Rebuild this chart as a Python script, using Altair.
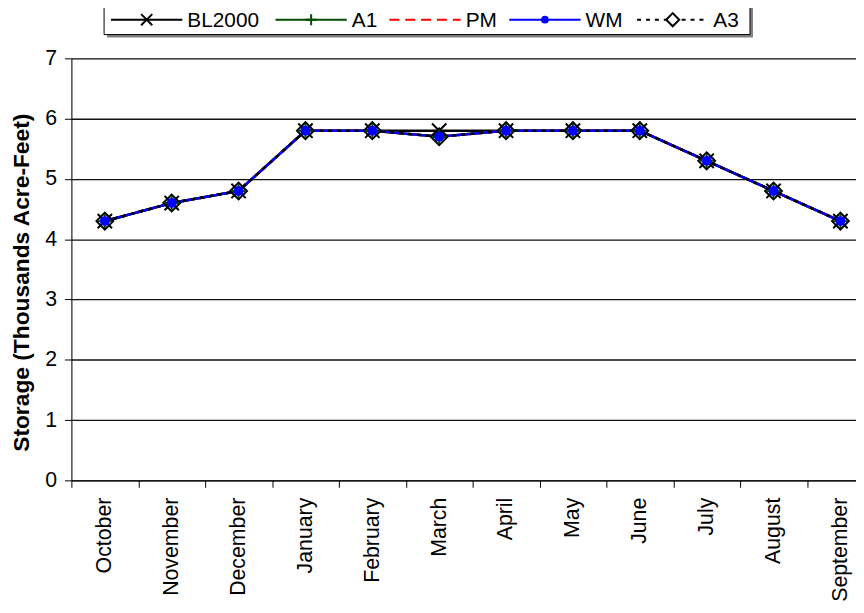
import altair as alt
import pandas as pd

months = ["October", "November", "December", "January", "February", "March",
          "April", "May", "June", "July", "August", "September"]
bl2000 = [4.3, 4.6, 4.8, 5.8, 5.8, 5.8, 5.8, 5.8, 5.8, 5.3, 4.8, 4.3]
a1 = [4.3, 4.6, 4.8, 5.8, 5.8, 5.7, 5.8, 5.8, 5.8, 5.3, 4.8, 4.3]
pm = [4.3, 4.6, 4.8, 5.8, 5.8, 5.7, 5.8, 5.8, 5.8, 5.3, 4.8, 4.3]
wm = [4.3, 4.6, 4.8, 5.8, 5.8, 5.7, 5.8, 5.8, 5.8, 5.3, 4.8, 4.3]
a3 = [4.3, 4.6, 4.8, 5.8, 5.8, 5.7, 5.8, 5.8, 5.8, 5.3, 4.8, 4.3]
series_names = ["BL2000", "A1", "PM", "WM", "A3"]
series_values = [bl2000, a1, pm, wm, a3]
y_ticks = [0, 1, 2, 3, 4, 5, 6, 7]

FONT = "Liberation Sans"
XPATH = "M-1,-1L1,1M-1,1L1,-1"
PLUS = "M-1,0L1,0M0,-1L0,1"
styles = {
    "BL2000": dict(color="#000000", dash=[1, 0], shape=XPATH, size=210, filled=False, sw=2),
    "A1": dict(color="#004d00", dash=[1, 0], shape=PLUS, size=210, filled=False, sw=2),
    "PM": dict(color="#ff0000", dash=[10, 6], shape=None, size=0, filled=False, sw=2),
    "WM": dict(color="#0000ff", dash=[1, 0], shape="circle", size=100, filled=True, sw=1.5),
    "A3": dict(color="#000000", dash=[4, 5], shape="diamond", size=290, filled=False, sw=2),
}

rows = []
for name, vals in zip(series_names, series_values):
    for m, v in zip(months, vals):
        rows.append({"series": name, "month": m, "value": v})
df = pd.DataFrame(rows)

x_enc = alt.X("month:N", sort=months, bandPosition=0.5,
              scale=alt.Scale(type="band", paddingInner=0, paddingOuter=0, range=[0, 810]),
              axis=alt.Axis(title=None, labelAngle=270, tickBand="extent", grid=False,
                            labelFontSize=21.5, labelPadding=10, tickSize=7,
                            domainColor="#000", tickColor="#000", labelColor="#000",
                            labelFont=FONT))
y_enc = alt.Y("value:Q", scale=alt.Scale(domain=[0, 7], nice=False, zero=True),
              axis=alt.Axis(title="Storage (Thousands Acre-Feet)", values=y_ticks,
                            grid=True, gridColor="#111", gridWidth=1.3, domainColor="#000",
                            tickColor="#000", tickSize=7, labelFontSize=21.5, labelPadding=8,
                            labelColor="#000", titleFontSize=23, titleFont=FONT,
                            labelFont=FONT, titleFontWeight="bold", titleColor="#000",
                            titlePadding=11, titleY=226))

line_layers = []
marker_layers = []
for name in series_names:
    st = styles[name]
    sub = df[df.series == name]
    line_layers.append(
        alt.Chart(sub).mark_line(color=st["color"], strokeWidth=2.5, strokeDash=st["dash"])
        .encode(x=x_enc, y=y_enc)
    )
marker_order = ["A3", "BL2000", "A1", "WM"]
for name in marker_order:
    st = styles[name]
    sub = df[df.series == name]
    marker_layers.append(
        alt.Chart(sub).mark_point(shape=st["shape"], size=st["size"], filled=st["filled"],
                                  color=st["color"], strokeWidth=st["sw"], opacity=1)
        .encode(x=x_enc, y=y_enc)
    )

# legend (layout in pixels relative to plot origin)
one = pd.DataFrame({"k": [0]})
leg_line_start = [40, 206, 321, 442, 571]
leg_len = 72
leg_y = -39
legend_layers = [
    alt.Chart(one).mark_rect(fill="#808080").encode(
        x=alt.value(36), x2=alt.value(688), y=alt.value(-70), y2=alt.value(-21)),
    alt.Chart(one).mark_rect(fill="white", stroke="#000", strokeWidth=1).encode(
        x=alt.value(33), x2=alt.value(685), y=alt.value(-70), y2=alt.value(-24)),
]
for name, x0 in zip(series_names, leg_line_start):
    st = styles[name]
    legend_layers.append(
        alt.Chart(one).mark_rule(color=st["color"], strokeWidth=2, strokeDash=st["dash"])
        .encode(x=alt.value(x0), x2=alt.value(x0 + leg_len), y=alt.value(leg_y))
    )
    if st["shape"] is not None:
        legend_layers.append(
            alt.Chart(one).mark_point(shape=st["shape"], size=st["size"] * 0.6,
                                      filled=st["filled"], color=st["color"],
                                      fill="white" if name == "A3" else st["color"],
                                      strokeWidth=st["sw"], opacity=1)
            .encode(x=alt.value(x0 + leg_len / 2), y=alt.value(leg_y))
        )
    legend_layers.append(
        alt.Chart(one).mark_text(text=name, align="left", baseline="middle", fontSize=21,
                                 font=FONT, color="#000")
        .encode(x=alt.value(x0 + leg_len + 5), y=alt.value(leg_y + 1))
    )

chart = alt.layer(*line_layers, *marker_layers, *legend_layers).properties(
    width=792, height=426,
    autosize=alt.AutoSizeParams(type="none"),
    padding={"left": 64, "top": 48, "right": 0, "bottom": 123},
).configure_view(stroke=None).configure(background="white")

chart.save("out.html", embed_options={"renderer": "svg", "actions": False})
